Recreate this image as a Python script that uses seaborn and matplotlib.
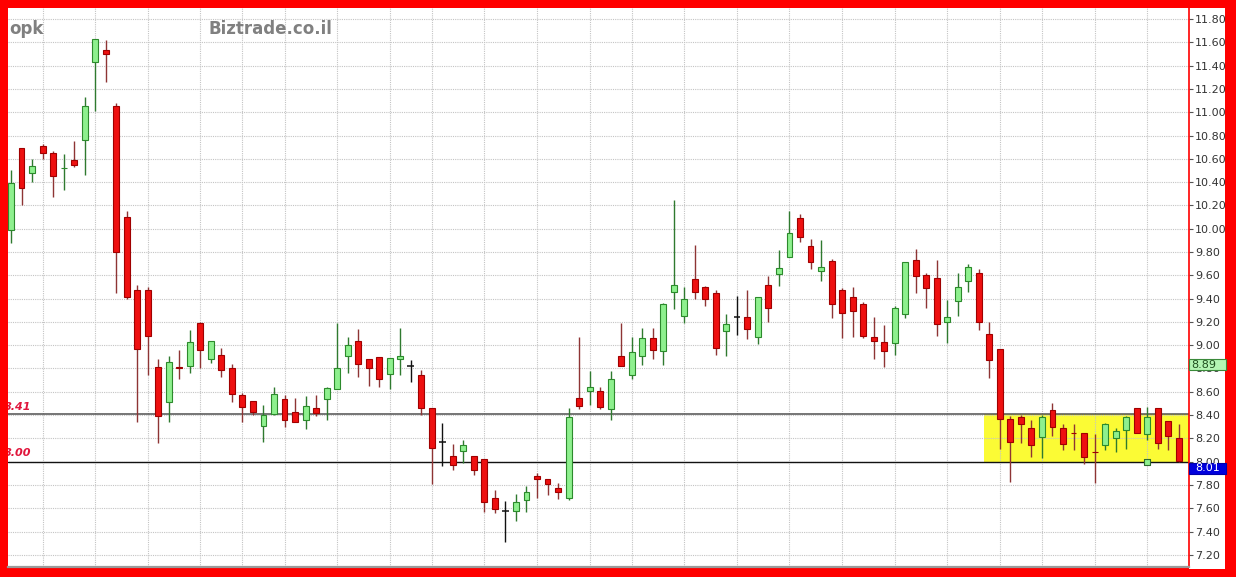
import numpy as np
import pandas as pd
import seaborn as sns
import matplotlib
matplotlib.use("Agg")
import matplotlib.pyplot as plt
from matplotlib.patches import Rectangle
from matplotlib.transforms import blended_transform_factory

# ---------------- data ----------------
opens = [9.99, 10.69, 10.48, 10.71, 10.65, 10.52, 10.59, 10.76, 11.43, 11.53,
         11.05, 10.10, 9.47, 9.47, 8.81, 8.51, 8.815, 8.82, 9.19, 8.88,
         8.92, 8.80, 8.57, 8.52, 8.31, 8.41, 8.54, 8.43, 8.36, 8.46,
         8.54, 8.62, 8.91, 9.04, 8.88, 8.90, 8.75, 8.88, 8.82, 8.74,
         8.46, 8.17, 8.05, 8.09, 8.05, 8.02, 7.69, 7.58, 7.58, 7.67,
         7.88, 7.85, 7.77, 7.69, 8.55, 8.61, 8.61, 8.45, 8.91, 8.74,
         8.91, 9.06, 8.95, 9.46, 9.25, 9.57, 9.50, 9.45, 9.12, 9.24,
         9.24, 9.07, 9.52, 9.61, 9.76, 10.09, 9.85, 9.64, 9.72, 9.47,
         9.41, 9.35, 9.07, 9.03, 9.02, 9.27, 9.73, 9.60, 9.58, 9.20,
         9.38, 9.55, 9.62, 9.10, 8.97, 8.37, 8.38, 8.29, 8.21, 8.44,
         8.29, 8.25, 8.25, 8.085, 8.14, 8.20, 8.27, 8.46, 8.24, 8.46,
         8.35, 8.20]
highs = [10.50, 10.69, 10.60, 10.73, 10.67, 10.64, 10.75, 11.13, 11.63, 11.62,
         11.08, 10.15, 9.52, 9.50, 8.88, 8.91, 8.96, 9.13, 9.20, 9.04,
         8.98, 8.84, 8.59, 8.52, 8.49, 8.64, 8.57, 8.55, 8.56, 8.57,
         8.64, 9.19, 9.07, 9.14, 8.88, 8.90, 8.89, 9.15, 8.87, 8.79,
         8.46, 8.33, 8.15, 8.19, 8.05, 8.02, 7.76, 7.66, 7.72, 7.79,
         7.90, 7.85, 7.82, 8.46, 9.07, 8.78, 8.64, 8.78, 9.19, 9.07,
         9.15, 9.15, 9.36, 10.25, 9.50, 9.86, 9.51, 9.47, 9.27, 9.42,
         9.47, 9.41, 9.59, 9.82, 10.15, 10.13, 9.91, 9.90, 9.74, 9.49,
         9.50, 9.37, 9.24, 9.17, 9.34, 9.71, 9.83, 9.62, 9.73, 9.39,
         9.62, 9.70, 9.65, 9.20, 8.97, 8.39, 8.40, 8.36, 8.40, 8.50,
         8.32, 8.32, 8.25, 8.24, 8.33, 8.29, 8.39, 8.46, 8.47, 8.46,
         8.35, 8.32]
lows = [9.88, 10.20, 10.40, 10.60, 10.27, 10.33, 10.53, 10.46, 11.01, 11.26,
        9.45, 9.40, 8.34, 8.74, 8.16, 8.34, 8.71, 8.76, 8.80, 8.85,
        8.73, 8.51, 8.34, 8.40, 8.17, 8.40, 8.30, 8.34, 8.28, 8.39,
        8.36, 8.62, 8.76, 8.73, 8.65, 8.64, 8.62, 8.74, 8.68, 8.40,
        7.81, 7.96, 7.93, 7.99, 7.89, 7.57, 7.56, 7.31, 7.49, 7.57,
        7.69, 7.71, 7.68, 7.67, 8.45, 8.49, 8.45, 8.36, 8.82, 8.71,
        8.83, 8.88, 8.83, 9.31, 9.19, 9.40, 9.34, 8.92, 8.91, 9.09,
        9.05, 9.01, 9.20, 9.51, 9.76, 9.89, 9.65, 9.55, 9.23, 9.06,
        9.07, 9.06, 8.88, 8.81, 8.92, 9.23, 9.45, 9.32, 9.08, 9.02,
        9.25, 9.46, 9.13, 8.72, 8.11, 7.83, 8.16, 8.04, 8.03, 8.22,
        8.10, 8.10, 7.98, 7.82, 8.10, 8.08, 8.11, 8.25, 8.19, 8.11,
        8.10, 8.00]
closes = [10.39, 10.35, 10.54, 10.65, 10.45, 10.525, 10.55, 11.05, 11.63, 11.50,
          9.80, 9.41, 8.97, 9.08, 8.39, 8.86, 8.805, 9.03, 8.96, 9.04,
          8.79, 8.58, 8.47, 8.43, 8.40, 8.58, 8.36, 8.34, 8.48, 8.42,
          8.63, 8.80, 9.00, 8.84, 8.80, 8.71, 8.89, 8.91, 8.82, 8.46,
          8.12, 8.17, 7.97, 8.14, 7.93, 7.65, 7.59, 7.58, 7.65, 7.74,
          7.85, 7.81, 7.74, 8.38, 8.48, 8.64, 8.47, 8.71, 8.82, 8.94,
          9.06, 8.96, 9.35, 9.52, 9.40, 9.46, 9.40, 8.98, 9.18, 9.24,
          9.14, 9.41, 9.32, 9.66, 9.96, 9.93, 9.71, 9.67, 9.35, 9.28,
          9.29, 9.08, 9.04, 8.95, 9.32, 9.71, 9.59, 9.49, 9.18, 9.24,
          9.50, 9.67, 9.20, 8.87, 8.37, 8.17, 8.32, 8.14, 8.38, 8.30,
          8.15, 8.245, 8.04, 8.08, 8.32, 8.26, 8.38, 8.25, 8.38, 8.16,
          8.22, 8.01]

week_grid_idx = [3, 8, 13, 18, 22, 26, 31, 36, 40, 45, 50, 55, 59, 64, 69, 74,
                 79, 84, 89, 94, 98, 103, 108]
y_ticks = [7.20, 7.40, 7.60, 7.80, 8.00, 8.20, 8.40, 8.60, 8.80, 9.00, 9.20,
           9.40, 9.60, 9.80, 10.00, 10.20, 10.40, 10.60, 10.80, 11.00, 11.20,
           11.40, 11.60, 11.80]
y_tick_labels = [f"{v:.2f}" for v in y_ticks]

resistance = 8.41
support = 8.00
zone_start_idx = 92.5
ref_price_label = "8.89"
last_price_label = "8.01"
event_idx = [108]
event_val = [8.00]
symbol_text = "opk"
site_text = "Biztrade.co.il"

# ---------------- figure ----------------
sns.set_theme(style="white")
plt.rcParams['font.family'] = ['DejaVu Sans']

W, H = 1236, 577
fig = plt.figure(figsize=(W / 100, H / 100), dpi=100, facecolor='#ff0000')
ax_l, ax_r, ax_t, ax_b = 7.5, 1189.0, 7.5, 567.0
ax = fig.add_axes([ax_l / W, (H - ax_b) / H, (ax_r - ax_l) / W, (ax_b - ax_t) / H])
ax.set_facecolor('white')

# white strip for the price scale
fig.add_artist(Rectangle((ax_r / W, (H - 569) / H), (1225 - ax_r) / W, (569 - 7.5) / H,
                         transform=fig.transFigure, facecolor='white',
                         edgecolor='none', zorder=-1))

o = np.array(opens)
h = np.array(highs)
l = np.array(lows)
c = np.array(closes)
x = np.arange(len(o))
up = c > o
dn = c < o
dj = c == o

# trading zone between levels
ax.add_patch(Rectangle((zone_start_idx, support), 120, resistance - support,
                       facecolor='#fbfb35', edgecolor='none', zorder=0.4))
ax.axhline(resistance, color='#505050', lw=1.1, zorder=2)
ax.axhline(support, color='#111111', lw=1.0, zorder=2)

# wicks
ax.vlines(x[up], l[up], h[up], color='#2f7a2f', lw=1.0, zorder=3)
ax.vlines(x[dn], l[dn], h[dn], color='#8e3434', lw=1.0, zorder=3)
ax.vlines(x[dj], l[dj], h[dj], color='#111111', lw=1.0, zorder=3)
# bodies
bw = 0.56
ax.bar(x[up], (c - o)[up], bottom=o[up], width=bw, color='#8ef08e',
       edgecolor='#2c8a2c', linewidth=0.8, zorder=4)
ax.bar(x[dn], (o - c)[dn], bottom=c[dn], width=bw, color='#ee1010',
       edgecolor='#a00000', linewidth=0.8, zorder=4)
ax.hlines(o[dj], x[dj] - 0.32, x[dj] + 0.32, color='#111111', lw=1.1, zorder=4)

# event marker
sns.scatterplot(x=event_idx, y=event_val, marker='s', s=16, color='#8ef08e',
                edgecolor='#2c6b2c', linewidth=0.8, ax=ax, zorder=5, legend=False)

# axes / scales
ax.set_xlim((ax_l - 11) / 10.52, (ax_r - 11) / 10.52)
ax.set_ylim(11.8 - (ax_b - 19) / 116.5, 11.8 + (19 - ax_t) / 116.5)
ax.set_xticks(week_grid_idx)
ax.set_xticklabels([])
ax.tick_params(axis='x', length=0)
ax.yaxis.tick_right()
ax.set_yticks(y_ticks)
ax.set_yticklabels(y_tick_labels)
ax.tick_params(axis='y', right=True, length=3, width=0.8, color='#555555',
               pad=1.5, labelsize=8, labelcolor='#333333')
ax.set_axisbelow(True)
ax.grid(True, color='#c4c4c4', lw=0.8, ls=(0, (1, 1)))
for s in ['left', 'top']:
    ax.spines[s].set_visible(False)
ax.spines['right'].set_color('#ff0000')
ax.spines['right'].set_linewidth(1.2)
ax.spines['bottom'].set_color('#9a9a9a')
ax.spines['bottom'].set_linewidth(1.6)
ax.set_xlabel('')
ax.set_ylabel('')

# level labels
ax.text(-0.65, 8.47, f"{resistance:.2f}", color='#e0163c', fontsize=8,
        fontweight='bold', fontstyle='italic', va='center', ha='left',
        clip_on=True, zorder=6)
ax.text(-0.65, 8.072, f"{support:.2f}", color='#e0163c', fontsize=8,
        fontweight='bold', fontstyle='italic', va='center', ha='left',
        clip_on=True, zorder=6)

# header texts
ax.text(0.0013, 0.952, symbol_text, transform=ax.transAxes, fontsize=12,
        fontweight='bold', color='#808080', ha='left', va='baseline', zorder=6)
ax.text(0.1697, 0.952, site_text, transform=ax.transAxes, fontsize=12,
        fontweight='bold', color='#808080', ha='left', va='baseline', zorder=6)

# price boxes on the scale
trans = blended_transform_factory(ax.transAxes, ax.transData)
bx_w = 37 / (ax_r - ax_l)
ax.add_patch(Rectangle((1.0, 8.787), bx_w, 0.095, transform=trans,
                       facecolor='#b4f5b4', edgecolor='#3a8a3a', lw=0.8,
                       clip_on=False, zorder=10))
ax.text(1.0 + 2.5 / (ax_r - ax_l), 8.834, ref_price_label, transform=trans,
        fontsize=8, color='#1f4f1f', ha='left', va='center', clip_on=False,
        zorder=11)
ax.add_patch(Rectangle((1.0, 7.894), bx_w, 0.098, transform=trans,
                       facecolor='#0000dd', edgecolor='#0000aa', lw=0.8,
                       clip_on=False, zorder=10))
ax.text(1.0 + 6 / (ax_r - ax_l), 7.943, last_price_label, transform=trans,
        fontsize=8, color='white', ha='left', va='center', clip_on=False,
        zorder=11)

fig.savefig("out.png", dpi=100, facecolor=fig.get_facecolor())
